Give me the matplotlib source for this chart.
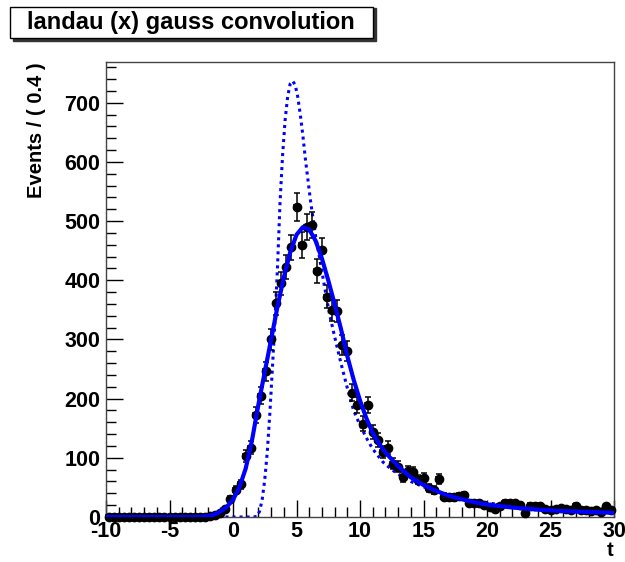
import numpy as np
import matplotlib
matplotlib.use("Agg")
import matplotlib.pyplot as plt
from matplotlib.patches import Rectangle
from matplotlib.ticker import MultipleLocator

plt.rcParams["font.family"] = ["Liberation Sans", "DejaVu Sans"]
plt.rcParams["font.weight"] = "bold"
plt.rcParams["axes.unicode_minus"] = False

# binned data, bin width 0.4 from -10 to 30
bin_centers = np.arange(100) * 0.4 - 9.8
counts = [0] * 20 + [
    1, 3, 6, 14, 30, 46, 55, 103, 117, 172,
    205, 246, 300, 361, 395, 423, 456, 524, 460, 490,
    494, 416, 451, 372, 350, 348, 291, 281, 210, 189,
    158, 189, 144, 130, 110, 117, 90, 85, 68, 78,
    76, 63, 66, 49, 46, 64, 34, 33, 33, 35,
    37, 24, 23, 23, 21, 17, 13, 18, 24, 23,
    23, 21, 6, 19, 18, 19, 13, 12, 14, 15,
    13, 11, 19, 12, 12, 10, 11, 9, 18, 11,
]
counts = np.array(counts, dtype=float)

# fitted landau (x) gauss model
fit_x = [-10, -3, -2.5, -2, -1.5, -1, -0.5, 0, 0.5, 1, 1.5, 2, 2.5, 3, 3.5, 4, 4.5,
         5, 5.5, 6, 6.5, 7, 7.5, 8, 8.5, 9, 9.5, 10, 10.5, 11, 11.5, 12, 13, 14,
         15, 16, 17, 18, 19, 20, 22, 24, 26, 28, 30]
fit_y = [0, 0, 0.5, 1.5, 4, 9, 17, 29, 50, 82, 130, 190, 245, 300, 355, 405, 447,
         477, 490, 486, 467, 437, 400, 360, 318, 272, 232, 197, 167, 142, 124, 109,
         86, 67, 54, 44, 36, 30, 25, 21, 16, 12.5, 10, 8.5, 7]

# landau component alone (dotted)
landau_x = [-10, 1.6, 1.9, 2.1, 2.3, 2.5, 2.7, 2.9, 3.1, 3.3, 3.5, 3.7, 3.9, 4.1, 4.3,
            4.5, 4.7, 4.9, 5.1, 5.3, 5.5, 5.7, 5.9, 6.1, 6.3, 6.5, 6.8, 7.2, 7.6,
            8.0, 8.5, 9.0, 9.5, 10, 10.6, 11, 11.8, 12.5, 13.4, 14, 15, 16, 17, 18,
            20, 22, 25, 30]
landau_y = [0, 0, 1, 10, 30, 63, 110, 175, 250, 330, 420, 530, 610, 670, 710,
            732, 737, 730, 710, 680, 645, 605, 570, 535, 505, 475, 440, 390, 343,
            305, 260, 218, 180, 155, 130, 115, 93, 80, 67, 60, 51, 44, 37, 31,
            24, 18, 13, 8]

fig = plt.figure(figsize=(6.25, 5.62), dpi=100)
ax = fig.add_axes([106 / 625, 45 / 562, 508 / 625, 455 / 562])

ax.plot(landau_x, landau_y, color="#0000ff", lw=2.2, ls=(0, (1, 1.3)), zorder=2)
ax.errorbar(bin_centers, counts, yerr=np.sqrt(counts), xerr=0.2, fmt="o",
            color="black", ms=6, elinewidth=1.1, capsize=2.5, capthick=1.1,
            zorder=3, clip_on=False)
ax.plot(fit_x, fit_y, color="#0000ff", lw=3, zorder=4)

ax.set_xlim(-10, 30)
ax.set_ylim(0, 769)
ax.xaxis.set_major_locator(MultipleLocator(5))
ax.xaxis.set_minor_locator(MultipleLocator(1))
ax.yaxis.set_major_locator(MultipleLocator(100))
ax.yaxis.set_minor_locator(MultipleLocator(20))
ax.tick_params(which="both", direction="in", top=False, right=False,
               labelsize=15.5, width=1)
ax.tick_params(which="major", length=12)
ax.tick_params(which="minor", length=7)
ax.tick_params(axis="x", pad=3)
ax.tick_params(axis="y", pad=4)
for lab in ax.get_xticklabels() + ax.get_yticklabels():
    lab.set_fontweight("bold")
for s in ax.spines.values():
    s.set_color("#444444")
    s.set_linewidth(1)

ax.set_ylabel("Events / ( 0.4 )", fontsize=14.5, fontweight="bold")
ax.yaxis.set_label_coords(46 / 625, 1 - 62 / 562, transform=fig.transFigure)
ax.yaxis.label.set_horizontalalignment("right")
fig.text(610 / 625, 1 - 551 / 562, "t", fontsize=14.5, fontweight="bold",
         ha="center", va="center")

# title box with shadow
W, H = 625, 562
fig.patches.append(Rectangle((13 / W, 1 - 41 / H), 363 / W, 33 / H,
                             transform=fig.transFigure, color="#333333", zorder=1))
fig.patches.append(Rectangle((10 / W, 1 - 38 / H), 363 / W, 31 / H,
                             transform=fig.transFigure, facecolor="white",
                             edgecolor="black", lw=1, zorder=2))
fig.text(191 / W, 1 - 22 / H, "landau (x) gauss convolution", fontsize=17,
         fontweight="bold", ha="center", va="center", zorder=3)

fig.savefig("out.png", dpi=100)
